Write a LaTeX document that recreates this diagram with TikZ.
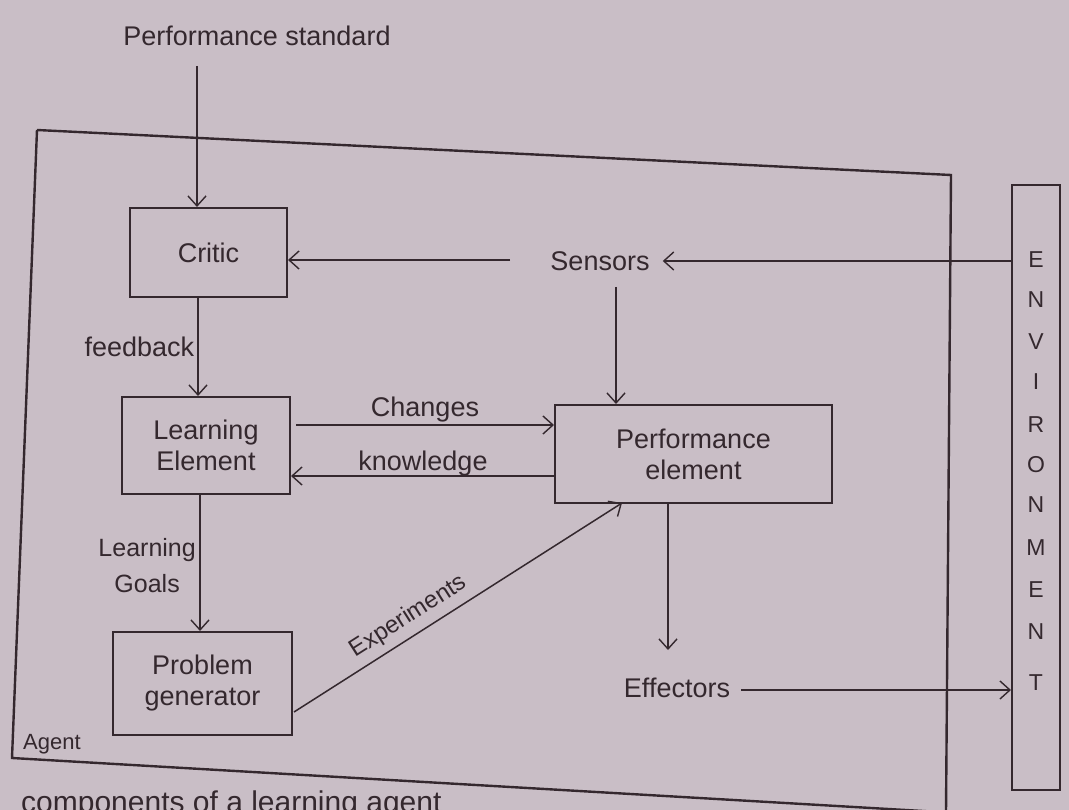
\documentclass[tikz,border=0pt]{standalone}
\usepackage{fontspec}
\setmainfont{Liberation Sans}
\usetikzlibrary{arrows.meta}
\definecolor{paper}{RGB}{201,190,198}
\definecolor{ink}{RGB}{52,40,46}
\tikzset{
  box/.style={draw=ink, line width=2pt, minimum width=#1, inner sep=0pt},
  lbl/.style={text=ink, font=\fontsize{27}{31}\selectfont, inner sep=1pt, align=center},
  envl/.style={text=ink, font=\fontsize{23}{26}\selectfont, inner sep=0pt},
  arr/.style={draw=ink, line width=1.5pt, -{Straight Barb[length=10pt,width=18pt,line width=1.4pt]}},
  frame/.style={draw=ink, line width=2.4pt}
}
\begin{document}
\begin{tikzpicture}[x=1pt,y=-1pt]
\clip (0,0) rectangle (1069,810);
\fill[paper] (0,0) rectangle (1069,810);
% agent frame
\coordinate (a1) at (37,130);
\coordinate (a2) at (951,175);
\coordinate (a3) at (946,812);
\coordinate (a4) at (12,758);
\draw[frame] (a1) -- (a2) -- (a3);
\draw[frame] (a1) -- (a4) -- (940,812);
\node[lbl, anchor=west, font=\fontsize{22}{26}\selectfont] (agent) at (22,744) {Agent};
% top label
\node[lbl] (std) at (257,36) {Performance standard};
% boxes
\node[box=157pt, minimum height=89pt, lbl] (critic) at (208.5,252.5) {Critic};
\node[box=168pt, minimum height=97pt, lbl] (le) at (206,445.5) {Learning\\Element};
\node[box=277pt, minimum height=98pt, lbl] (pe) at (693.5,454) {Performance\\element};
\node[box=179pt, minimum height=103pt, lbl] (pg) at (202.5,683.5) {Problem\\generator};
\node[box=48pt, minimum height=605pt] (env) at (1036,487.5) {};
% environment letters
\foreach \l/\y in {E/260,N/300,V/342,I/382,R/425,O/465,N/505,M/548,E/590,N/632,T/683}
  \node[envl] at (1036,\y) {\l};
% sensors and effectors
\node[lbl] (sens) at (600,261) {Sensors};
\node[lbl] (eff) at (677,688) {Effectors};
% arrows
\coordinate (s0) at (197,66);
\draw[arr] (s0) -- (s0 |- critic.north);
\coordinate (s1) at (510,260);
\draw[arr] (s1) -- (critic.east |- s1);
\draw[arr] (env.west |- sens.east) -- ([xshift=12pt]sens.east);
\coordinate (s2) at (616,287);
\draw[arr] (s2) -- (s2 |- pe.north);
\coordinate (c1) at (198,297);
\draw[arr] (c1) -- (c1 |- le.north) node[lbl, midway, left=2pt] {feedback};
\coordinate (c2) at (296,425);
\draw[arr] (c2) -- (c2 -| pe.west) node[lbl, midway, above=1pt] {Changes};
\coordinate (c3) at (555,476);
\draw[arr] (c3) -- (c3 -| le.east) node[lbl, midway, above=-2pt] {knowledge};
\coordinate (c4) at (200,494);
\draw[arr] (c4) -- (c4 |- pg.north);
\node[lbl, anchor=east, font=\fontsize{25}{36}\selectfont] (goals) at (197,566) {Learning\\Goals};
\coordinate (c5) at (294,712);
\coordinate (c6) at (622,503);
\draw[arr] (c5) -- (c6) node[lbl, pos=0.38, above=6pt, sloped, font=\fontsize{24}{28}\selectfont] {Experiments};
\coordinate (c7) at (668,503);
\draw[arr] (c7) -- (668,650);
\draw[arr] (eff.east) ++(10,2) coordinate (c8) -- (env.west |- c8);
% caption (cut off at the edge)
\node[lbl, anchor=north west, font=\fontsize{30}{32}\selectfont] (cap) at (20,790) {components of a learning agent};
\end{tikzpicture}
\end{document}
